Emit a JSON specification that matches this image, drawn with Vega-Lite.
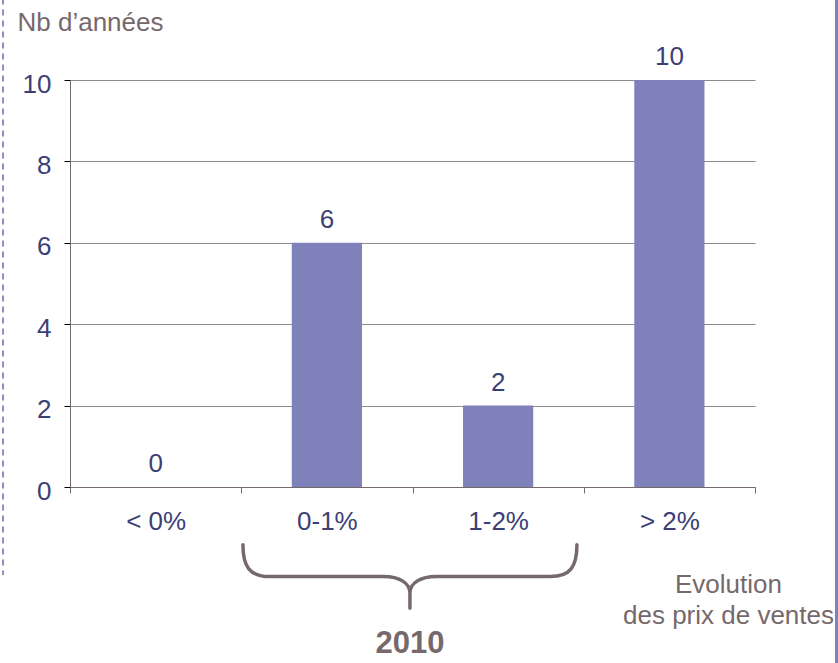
{
  "$schema": "https://vega.github.io/schema/vega-lite/v6.json",
  "width": 685,
  "height": 407,
  "autosize": {"type": "none"},
  "padding": {"left": 70, "top": 80, "right": 83, "bottom": 176},
  "background": "#ffffff",
  "config": {"view": {"stroke": null}, "font": "Liberation Sans"},
  "data": {"values": [
    {"cat": "< 0%", "n": 0},
    {"cat": "0-1%", "n": 6},
    {"cat": "1-2%", "n": 2},
    {"cat": "> 2%", "n": 10}
  ]},
  "resolve": {"scale": {"x": "independent", "y": "independent"}},
  "layer": [
    {
      "mark": {"type": "bar", "color": "#7f81bb", "width": {"band": 0.41}},
      "encoding": {
        "x": {
          "field": "cat", "type": "nominal",
          "sort": ["< 0%", "0-1%", "1-2%", "> 2%"],
          "scale": {"paddingInner": 0, "paddingOuter": 0},
          "axis": {
            "title": ["Evolution", "des prix de ventes"],
            "titleX": 658, "titleY": 105,
            "titleAlign": "center", "titleBaseline": "alphabetic",
            "titleFontSize": 26, "titleFontWeight": "normal", "titleColor": "#76696b",
            "titleLineHeight": 31,
            "labelAngle": 0, "labelFontSize": 26, "labelColor": "#3c3f76", "labelPadding": 15,
            "tickBand": "extent", "tickSize": 6, "tickColor": "#76696b",
            "domainColor": "#76696b", "grid": false
          }
        },
        "y": {
          "field": "n", "type": "quantitative",
          "scale": {"domain": [0, 10], "nice": false},
          "axis": {
            "title": "Nb d’années",
            "titleAngle": 0, "titleX": -53, "titleY": -50,
            "titleAlign": "left", "titleBaseline": "alphabetic",
            "titleFontSize": 26, "titleFontWeight": "normal", "titleColor": "#76696b",
            "values": [0, 2, 4, 6, 8, 10],
            "labelFontSize": 26, "labelColor": "#3c3f76", "labelPadding": 13, "labelOffset": 4,
            "tickSize": 6, "tickColor": "#000000",
            "domainColor": "#76696b", "grid": true, "gridColor": "#8c8c8c"
          }
        }
      }
    },
    {
      "mark": {"type": "text", "dy": -15, "baseline": "alphabetic", "align": "center", "fontSize": 26, "color": "#3c3f76"},
      "encoding": {
        "x": {"field": "cat", "type": "nominal", "sort": ["< 0%", "0-1%", "1-2%", "> 2%"],
              "scale": {"paddingInner": 0, "paddingOuter": 0}, "axis": null},
        "y": {"field": "n", "type": "quantitative", "scale": {"domain": [0, 10], "nice": false}, "axis": null},
        "text": {"field": "n", "type": "quantitative"}
      }
    },
    {
      "data": {"values": [{"note": "2010"}]},
      "mark": {
        "type": "point",
        "shape": "M -1 -0.19 C -1 -0.06 -0.96 0 -0.84 0 L -0.16 0 C -0.06 0 0 0.04 0 0.1 L 0 0.19 M 0 0.1 C 0 0.04 0.06 0 0.16 0 L 0.84 0 C 0.96 0 1 -0.06 1 -0.19",
        "filled": false, "stroke": "#76696b", "strokeWidth": 3.5, "strokeCap": "round",
        "size": 111556, "opacity": 1
      },
      "encoding": {
        "x": {"datum": 1.985, "type": "quantitative", "scale": {"domain": [0, 4], "nice": false, "zero": false}, "axis": null},
        "y": {"datum": -2.2, "type": "quantitative", "scale": {"domain": [0, 10], "nice": false}, "axis": null}
      }
    },
    {
      "data": {"values": [{"note": "2010"}]},
      "mark": {"type": "text", "fontWeight": "bold", "fontSize": 31, "color": "#76696b", "baseline": "alphabetic", "align": "center"},
      "encoding": {
        "x": {"datum": 1.985, "type": "quantitative", "scale": {"domain": [0, 4], "nice": false, "zero": false}, "axis": null},
        "y": {"datum": -4.07, "type": "quantitative", "scale": {"domain": [0, 10], "nice": false}, "axis": null},
        "text": {"field": "note"}
      }
    },
    {
      "data": {"values": [{"edge": "left"}]},
      "mark": {"type": "rule", "color": "#8a8cc8", "strokeWidth": 2, "strokeDash": [6, 5]},
      "encoding": {
        "x": {"datum": -0.391, "type": "quantitative", "scale": {"domain": [0, 4], "nice": false, "zero": false}, "axis": null},
        "y": {"datum": 12, "type": "quantitative", "scale": {"domain": [0, 10], "nice": false}, "axis": null},
        "y2": {"datum": -2.16}
      }
    },
    {
      "data": {"values": [{"edge": "right"}]},
      "mark": {"type": "rule", "color": "#7f81bb", "strokeWidth": 3},
      "encoding": {
        "x": {"datum": 4.476, "type": "quantitative", "scale": {"domain": [0, 4], "nice": false, "zero": false}, "axis": null},
        "y": {"datum": 12, "type": "quantitative", "scale": {"domain": [0, 10], "nice": false}, "axis": null},
        "y2": {"datum": -4.4}
      }
    }
  ]
}
